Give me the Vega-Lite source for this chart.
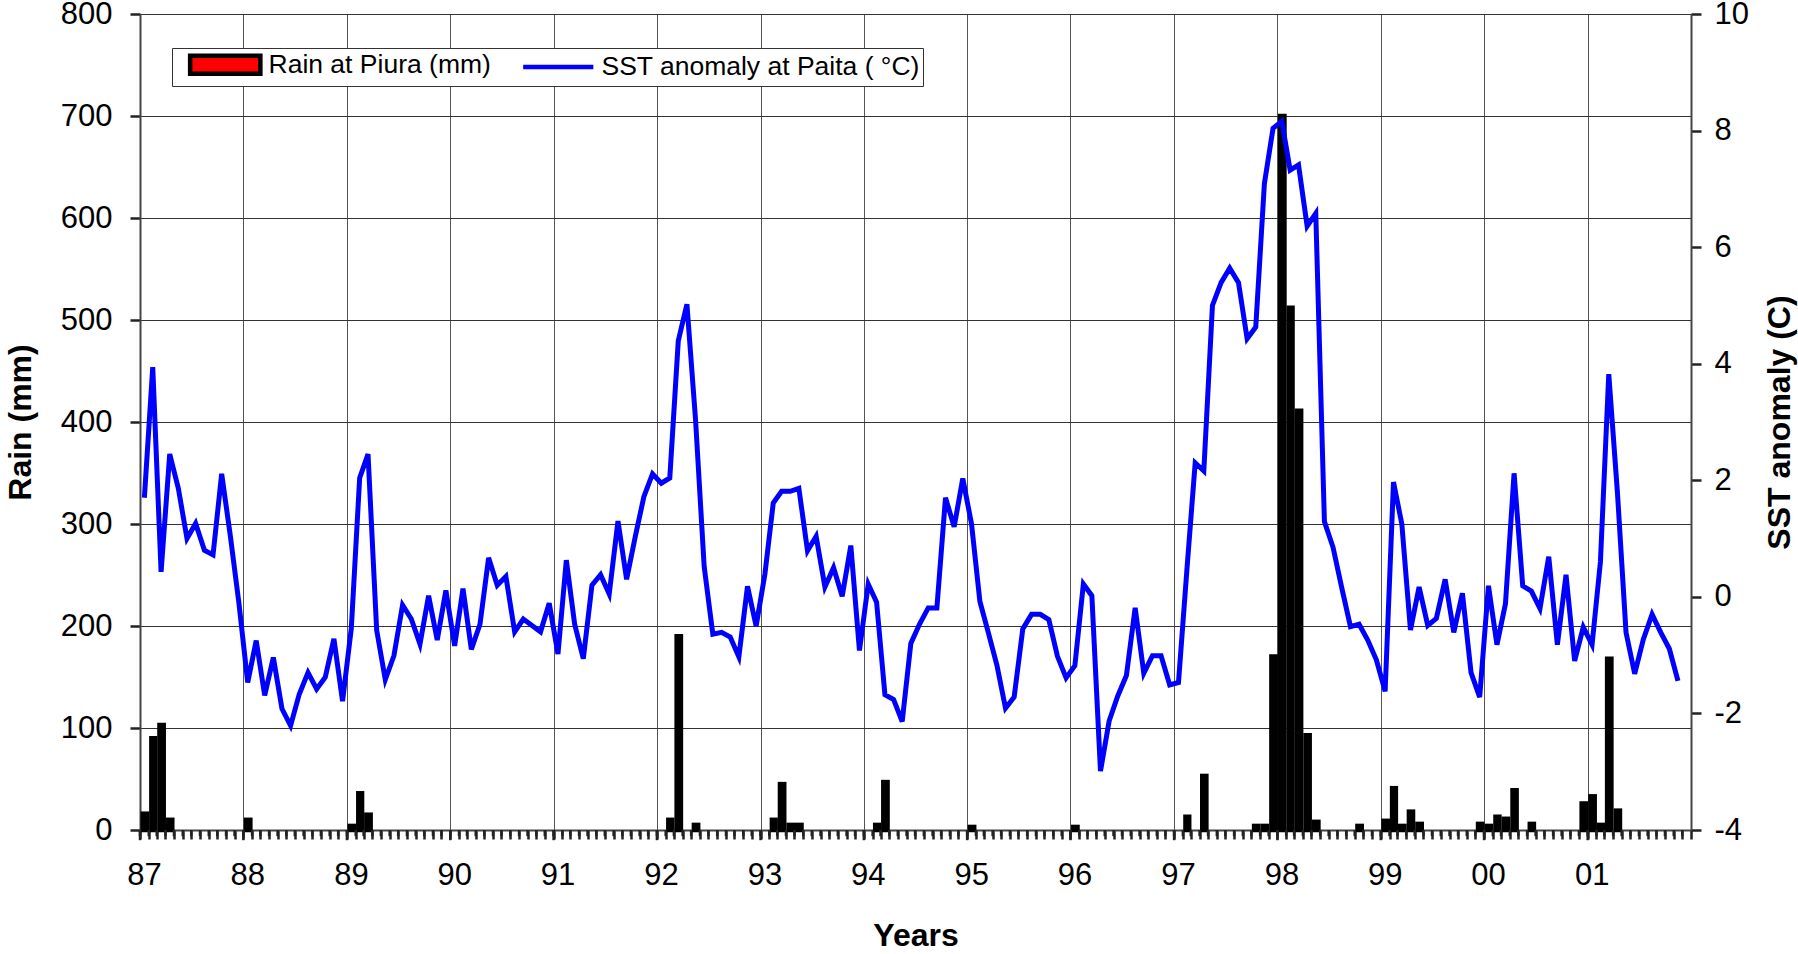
{
  "$schema": "https://vega.github.io/schema/vega-lite/v6.json",
  "width": 1551,
  "height": 816,
  "autosize": {"type": "none"},
  "padding": {"left": 140, "top": 14, "right": 107, "bottom": 124},
  "background": "white",
  "config": {
    "view": {"stroke": null},
    "font": "Liberation Sans",
    "axis": {"labelFont": "Liberation Sans", "titleFont": "Liberation Sans", "labelColor": "black", "titleColor": "black", "labelFontSize": 31, "titleFontSize": 32, "titleFontWeight": "bold"}
  },
  "data": {"values": [
    {"date": "1987-01", "rain": 16, "sst": 1.7},
    {"date": "1987-02", "rain": 90, "sst": 3.94},
    {"date": "1987-03", "rain": 103, "sst": 0.43},
    {"date": "1987-04", "rain": 10, "sst": 2.45},
    {"date": "1987-05", "rain": 0, "sst": 1.86},
    {"date": "1987-06", "rain": 0, "sst": 1.0},
    {"date": "1987-07", "rain": 0, "sst": 1.26},
    {"date": "1987-08", "rain": 0, "sst": 0.8},
    {"date": "1987-09", "rain": 0, "sst": 0.72},
    {"date": "1987-10", "rain": 0, "sst": 2.11},
    {"date": "1987-11", "rain": 0, "sst": 1.05},
    {"date": "1987-12", "rain": 0, "sst": -0.11},
    {"date": "1988-01", "rain": 10, "sst": -1.47},
    {"date": "1988-02", "rain": 0, "sst": -0.75},
    {"date": "1988-03", "rain": 0, "sst": -1.69},
    {"date": "1988-04", "rain": 0, "sst": -1.04},
    {"date": "1988-05", "rain": 0, "sst": -1.92},
    {"date": "1988-06", "rain": 0, "sst": -2.21},
    {"date": "1988-07", "rain": 0, "sst": -1.67},
    {"date": "1988-08", "rain": 0, "sst": -1.3},
    {"date": "1988-09", "rain": 0, "sst": -1.58},
    {"date": "1988-10", "rain": 0, "sst": -1.38},
    {"date": "1988-11", "rain": 0, "sst": -0.72},
    {"date": "1988-12", "rain": 0, "sst": -1.79},
    {"date": "1989-01", "rain": 4, "sst": -0.54},
    {"date": "1989-02", "rain": 36, "sst": 2.04},
    {"date": "1989-03", "rain": 15, "sst": 2.45},
    {"date": "1989-04", "rain": 0, "sst": -0.57},
    {"date": "1989-05", "rain": 0, "sst": -1.42},
    {"date": "1989-06", "rain": 0, "sst": -1.01},
    {"date": "1989-07", "rain": 0, "sst": -0.14},
    {"date": "1989-08", "rain": 0, "sst": -0.38},
    {"date": "1989-09", "rain": 0, "sst": -0.81},
    {"date": "1989-10", "rain": 0, "sst": 0.02},
    {"date": "1989-11", "rain": 0, "sst": -0.74},
    {"date": "1989-12", "rain": 0, "sst": 0.11},
    {"date": "1990-01", "rain": 0, "sst": -0.84},
    {"date": "1990-02", "rain": 0, "sst": 0.14},
    {"date": "1990-03", "rain": 0, "sst": -0.9},
    {"date": "1990-04", "rain": 0, "sst": -0.47},
    {"date": "1990-05", "rain": 0, "sst": 0.67},
    {"date": "1990-06", "rain": 0, "sst": 0.2},
    {"date": "1990-07", "rain": 0, "sst": 0.35},
    {"date": "1990-08", "rain": 0, "sst": -0.6},
    {"date": "1990-09", "rain": 0, "sst": -0.38},
    {"date": "1990-10", "rain": 0, "sst": -0.49},
    {"date": "1990-11", "rain": 0, "sst": -0.6},
    {"date": "1990-12", "rain": 0, "sst": -0.11},
    {"date": "1991-01", "rain": 0, "sst": -0.98},
    {"date": "1991-02", "rain": 0, "sst": 0.63},
    {"date": "1991-03", "rain": 0, "sst": -0.47},
    {"date": "1991-04", "rain": 0, "sst": -1.06},
    {"date": "1991-05", "rain": 0, "sst": 0.2},
    {"date": "1991-06", "rain": 0, "sst": 0.38},
    {"date": "1991-07", "rain": 0, "sst": 0.05},
    {"date": "1991-08", "rain": 0, "sst": 1.3},
    {"date": "1991-09", "rain": 0, "sst": 0.3},
    {"date": "1991-10", "rain": 0, "sst": 1.03},
    {"date": "1991-11", "rain": 0, "sst": 1.72},
    {"date": "1991-12", "rain": 0, "sst": 2.11},
    {"date": "1992-01", "rain": 0, "sst": 1.95},
    {"date": "1992-02", "rain": 10, "sst": 2.04},
    {"date": "1992-03", "rain": 190, "sst": 4.39},
    {"date": "1992-04", "rain": 0, "sst": 5.02},
    {"date": "1992-05", "rain": 5, "sst": 3.04},
    {"date": "1992-06", "rain": 0, "sst": 0.52},
    {"date": "1992-07", "rain": 0, "sst": -0.64},
    {"date": "1992-08", "rain": 0, "sst": -0.61},
    {"date": "1992-09", "rain": 0, "sst": -0.69},
    {"date": "1992-10", "rain": 0, "sst": -1.03},
    {"date": "1992-11", "rain": 0, "sst": 0.18},
    {"date": "1992-12", "rain": 0, "sst": -0.5},
    {"date": "1993-01", "rain": 0, "sst": 0.39},
    {"date": "1993-02", "rain": 10, "sst": 1.61},
    {"date": "1993-03", "rain": 45, "sst": 1.81},
    {"date": "1993-04", "rain": 5, "sst": 1.81},
    {"date": "1993-05", "rain": 5, "sst": 1.86},
    {"date": "1993-06", "rain": 0, "sst": 0.79},
    {"date": "1993-07", "rain": 0, "sst": 1.04},
    {"date": "1993-08", "rain": 0, "sst": 0.17},
    {"date": "1993-09", "rain": 0, "sst": 0.5},
    {"date": "1993-10", "rain": 0, "sst": 0.01},
    {"date": "1993-11", "rain": 0, "sst": 0.88},
    {"date": "1993-12", "rain": 0, "sst": -0.92},
    {"date": "1994-01", "rain": 0, "sst": 0.22},
    {"date": "1994-02", "rain": 5, "sst": -0.09},
    {"date": "1994-03", "rain": 47, "sst": -1.68},
    {"date": "1994-04", "rain": 0, "sst": -1.76},
    {"date": "1994-05", "rain": 0, "sst": -2.14},
    {"date": "1994-06", "rain": 0, "sst": -0.8},
    {"date": "1994-07", "rain": 0, "sst": -0.47},
    {"date": "1994-08", "rain": 0, "sst": -0.19},
    {"date": "1994-09", "rain": 0, "sst": -0.19},
    {"date": "1994-10", "rain": 0, "sst": 1.7},
    {"date": "1994-11", "rain": 0, "sst": 1.2},
    {"date": "1994-12", "rain": 0, "sst": 2.03},
    {"date": "1995-01", "rain": 3, "sst": 1.25},
    {"date": "1995-02", "rain": 0, "sst": -0.08},
    {"date": "1995-03", "rain": 0, "sst": -0.61},
    {"date": "1995-04", "rain": 0, "sst": -1.17},
    {"date": "1995-05", "rain": 0, "sst": -1.91},
    {"date": "1995-06", "rain": 0, "sst": -1.72},
    {"date": "1995-07", "rain": 0, "sst": -0.55},
    {"date": "1995-08", "rain": 0, "sst": -0.3},
    {"date": "1995-09", "rain": 0, "sst": -0.3},
    {"date": "1995-10", "rain": 0, "sst": -0.39},
    {"date": "1995-11", "rain": 0, "sst": -1.02},
    {"date": "1995-12", "rain": 0, "sst": -1.39},
    {"date": "1996-01", "rain": 3, "sst": -1.18},
    {"date": "1996-02", "rain": 0, "sst": 0.22},
    {"date": "1996-03", "rain": 0, "sst": 0.02},
    {"date": "1996-04", "rain": 0, "sst": -2.99},
    {"date": "1996-05", "rain": 0, "sst": -2.13},
    {"date": "1996-06", "rain": 0, "sst": -1.7},
    {"date": "1996-07", "rain": 0, "sst": -1.35},
    {"date": "1996-08", "rain": 0, "sst": -0.19},
    {"date": "1996-09", "rain": 0, "sst": -1.31},
    {"date": "1996-10", "rain": 0, "sst": -1.01},
    {"date": "1996-11", "rain": 0, "sst": -1.01},
    {"date": "1996-12", "rain": 0, "sst": -1.51},
    {"date": "1997-01", "rain": 0, "sst": -1.47},
    {"date": "1997-02", "rain": 13, "sst": 0.45},
    {"date": "1997-03", "rain": 0, "sst": 2.3},
    {"date": "1997-04", "rain": 53, "sst": 2.16},
    {"date": "1997-05", "rain": 0, "sst": 5.0},
    {"date": "1997-06", "rain": 0, "sst": 5.39},
    {"date": "1997-07", "rain": 0, "sst": 5.64},
    {"date": "1997-08", "rain": 0, "sst": 5.39},
    {"date": "1997-09", "rain": 0, "sst": 4.43},
    {"date": "1997-10", "rain": 4, "sst": 4.63},
    {"date": "1997-11", "rain": 4, "sst": 7.09},
    {"date": "1997-12", "rain": 170, "sst": 8.04},
    {"date": "1998-01", "rain": 700, "sst": 8.16},
    {"date": "1998-02", "rain": 512, "sst": 7.32},
    {"date": "1998-03", "rain": 411, "sst": 7.41},
    {"date": "1998-04", "rain": 93, "sst": 6.36},
    {"date": "1998-05", "rain": 8, "sst": 6.58},
    {"date": "1998-06", "rain": 0, "sst": 1.29},
    {"date": "1998-07", "rain": 0, "sst": 0.85},
    {"date": "1998-08", "rain": 0, "sst": 0.15},
    {"date": "1998-09", "rain": 0, "sst": -0.51},
    {"date": "1998-10", "rain": 4, "sst": -0.47},
    {"date": "1998-11", "rain": 0, "sst": -0.74},
    {"date": "1998-12", "rain": 0, "sst": -1.08},
    {"date": "1999-01", "rain": 9, "sst": -1.62},
    {"date": "1999-02", "rain": 41, "sst": 1.97},
    {"date": "1999-03", "rain": 4, "sst": 1.25},
    {"date": "1999-04", "rain": 18, "sst": -0.57},
    {"date": "1999-05", "rain": 6, "sst": 0.17},
    {"date": "1999-06", "rain": 0, "sst": -0.49},
    {"date": "1999-07", "rain": 0, "sst": -0.37},
    {"date": "1999-08", "rain": 0, "sst": 0.3},
    {"date": "1999-09", "rain": 0, "sst": -0.61},
    {"date": "1999-10", "rain": 0, "sst": 0.06},
    {"date": "1999-11", "rain": 0, "sst": -1.3},
    {"date": "1999-12", "rain": 6, "sst": -1.72},
    {"date": "2000-01", "rain": 4, "sst": 0.19},
    {"date": "2000-02", "rain": 13, "sst": -0.82},
    {"date": "2000-03", "rain": 11, "sst": -0.12},
    {"date": "2000-04", "rain": 39, "sst": 2.12},
    {"date": "2000-05", "rain": 0, "sst": 0.19},
    {"date": "2000-06", "rain": 6, "sst": 0.1},
    {"date": "2000-07", "rain": 0, "sst": -0.2},
    {"date": "2000-08", "rain": 0, "sst": 0.69},
    {"date": "2000-09", "rain": 0, "sst": -0.82},
    {"date": "2000-10", "rain": 0, "sst": 0.38},
    {"date": "2000-11", "rain": 0, "sst": -1.1},
    {"date": "2000-12", "rain": 26, "sst": -0.52},
    {"date": "2001-01", "rain": 33, "sst": -0.82},
    {"date": "2001-02", "rain": 5, "sst": 0.6},
    {"date": "2001-03", "rain": 168, "sst": 3.82},
    {"date": "2001-04", "rain": 19, "sst": 1.8},
    {"date": "2001-05", "rain": 0, "sst": -0.61},
    {"date": "2001-06", "rain": 0, "sst": -1.32},
    {"date": "2001-07", "rain": 0, "sst": -0.73},
    {"date": "2001-08", "rain": 0, "sst": -0.3},
    {"date": "2001-09", "rain": 0, "sst": -0.61},
    {"date": "2001-10", "rain": 0, "sst": -0.89},
    {"date": "2001-11", "rain": 0, "sst": -1.44},
    {"date": "2001-12", "rain": 0, "sst": null}
  ]},
  "layer": [
    {
      "layer": [
        {
          "transform": [{"filter": "datum.rain > 0"}],
          "mark": {"type": "bar", "fill": "#ff0000", "stroke": "black", "strokeWidth": 4.5, "width": {"band": 0.6}},
          "encoding": {
            "x": {
              "field": "date", "type": "temporal", "timeUnit": "utcyearmonth",
              "scale": {"type": "utc", "domain": [{"year": 1987, "month": 1, "date": 1, "utc": true}, {"year": 2002, "month": 1, "date": 1, "utc": true}]},
              "axis": {
                "orient": "bottom", "title": "Years",
                "tickCount": {"interval": "month", "step": 1},
                "labelExpr": "utcmonth(datum.value) === 0 && utcyear(datum.value) < 2002 ? utcFormat(datum.value, '%y') : ''",
                "labelOffset": 4, "labelFlush": false, "labelOverlap": false, "labelBound": false,
                "grid": true, "gridColor": "#555", "gridWidth": 1,
                "gridOpacity": {"condition": {"test": "utcmonth(datum.value) === 0", "value": 1}, "value": 0},
                "ticks": true, "tickSize": 9, "tickColor": "#222", "tickWidth": 2.5,
                "domainColor": "#444", "domainWidth": 2,
                "labelPadding": 21, "titlePadding": 30
              }
            },
            "y": {
              "field": "rain", "type": "quantitative",
              "scale": {"domain": [0, 800], "nice": false},
              "axis": {
                "title": "Rain (mm)", "values": [0, 100, 200, 300, 400, 500, 600, 700, 800],
                "grid": true, "gridColor": "#333", "gridWidth": 1,
                "tickSize": 10, "tickColor": "#222", "tickWidth": 2.5, "labelPadding": 18, "titlePadding": 23,
                "domainColor": "#444", "domainWidth": 2
              }
            }
          }
        },
        {
          "mark": {"type": "rule", "color": "#222", "strokeWidth": 2.5},
          "encoding": {
            "x": {"field": "date", "type": "temporal", "timeUnit": "utcyearmonth", "bandPosition": 0},
            "y": {"datum": 0},
            "y2": {"datum": -6}
          }
        },
        {
          "transform": [{"filter": "utcmonth(datum.date) === 0"}],
          "mark": {"type": "rule", "color": "#222", "strokeWidth": 2.5},
          "encoding": {
            "x": {"field": "date", "type": "temporal", "timeUnit": "utcyearmonth", "bandPosition": 0},
            "y": {"datum": 0},
            "y2": {"datum": -10}
          }
        }
      ]
    },
    {
      "mark": {"type": "line", "stroke": "#0000ff", "strokeWidth": 5},
      "encoding": {
        "x": {"field": "date", "type": "temporal", "timeUnit": "utcyearmonth", "bandPosition": 0.5},
        "y": {
          "field": "sst", "type": "quantitative",
          "scale": {"domain": [-4, 10], "nice": false},
          "axis": {
            "orient": "right", "title": "SST anomaly (C)", "values": [-4, -2, 0, 2, 4, 6, 8, 10],
            "labelExpr": "datum.value + ''",
            "grid": false, "titleAngle": -90, "titleBaseline": "top",
            "tickSize": 10, "tickColor": "#222", "tickWidth": 2.5, "labelPadding": 13, "titlePadding": 16,
            "domainColor": "#444", "domainWidth": 2
          }
        }
      }
    },
    {
      "data": {"values": [{"series": "Rain at Piura (mm)"}, {"series": "SST anomaly at Paita ( °C)"}]},
      "mark": {"type": "point", "opacity": 0},
      "encoding": {
        "shape": {
          "field": "series", "type": "nominal",
          "scale": {"domain": ["Rain at Piura (mm)", "SST anomaly at Paita ( °C)"], "range": ["M-3.9,-1H3.9V1H-3.9Z", "M-3.9,0H3.9"]},
          "legend": {
            "orient": "none", "legendX": 32, "legendY": 34, "direction": "horizontal", "title": null,
            "labelFontSize": 26.5, "labelFont": "Liberation Sans", "labelColor": "black", "labelLimit": 600,
            "labelExpr": "datum.value === 'SST anomaly at Paita ( °C)' ? datum.label + '    ' : datum.label",
            "symbolSize": 324, "symbolOffset": 37, "labelOffset": 30, "columnPadding": 17,
            "symbolStrokeWidth": 4.5, "symbolOpacity": 1,
            "padding": 3, "strokeColor": "#333", "fillColor": "white"
          }
        },
        "fill": {
          "field": "series", "type": "nominal",
          "scale": {"domain": ["Rain at Piura (mm)", "SST anomaly at Paita ( °C)"], "range": ["#ff0000", "transparent"]},
          "legend": {
            "orient": "none", "legendX": 32, "legendY": 34, "direction": "horizontal", "title": null,
            "labelFontSize": 26.5, "labelFont": "Liberation Sans", "labelColor": "black", "labelLimit": 600,
            "labelExpr": "datum.value === 'SST anomaly at Paita ( °C)' ? datum.label + '    ' : datum.label",
            "symbolSize": 324, "symbolOffset": 37, "labelOffset": 30, "columnPadding": 17,
            "symbolStrokeWidth": 4.5, "symbolOpacity": 1,
            "padding": 3, "strokeColor": "#333", "fillColor": "white"
          }
        },
        "stroke": {
          "field": "series", "type": "nominal",
          "scale": {"domain": ["Rain at Piura (mm)", "SST anomaly at Paita ( °C)"], "range": ["#000000", "#0000ff"]},
          "legend": {
            "orient": "none", "legendX": 32, "legendY": 34, "direction": "horizontal", "title": null,
            "labelFontSize": 26.5, "labelFont": "Liberation Sans", "labelColor": "black", "labelLimit": 600,
            "labelExpr": "datum.value === 'SST anomaly at Paita ( °C)' ? datum.label + '    ' : datum.label",
            "symbolSize": 324, "symbolOffset": 37, "labelOffset": 30, "columnPadding": 17,
            "symbolStrokeWidth": 4.5, "symbolOpacity": 1,
            "padding": 3, "strokeColor": "#333", "fillColor": "white"
          }
        }
      }
    }
  ],
  "resolve": {"scale": {"y": "independent"}, "axis": {"y": "independent"}}
}
